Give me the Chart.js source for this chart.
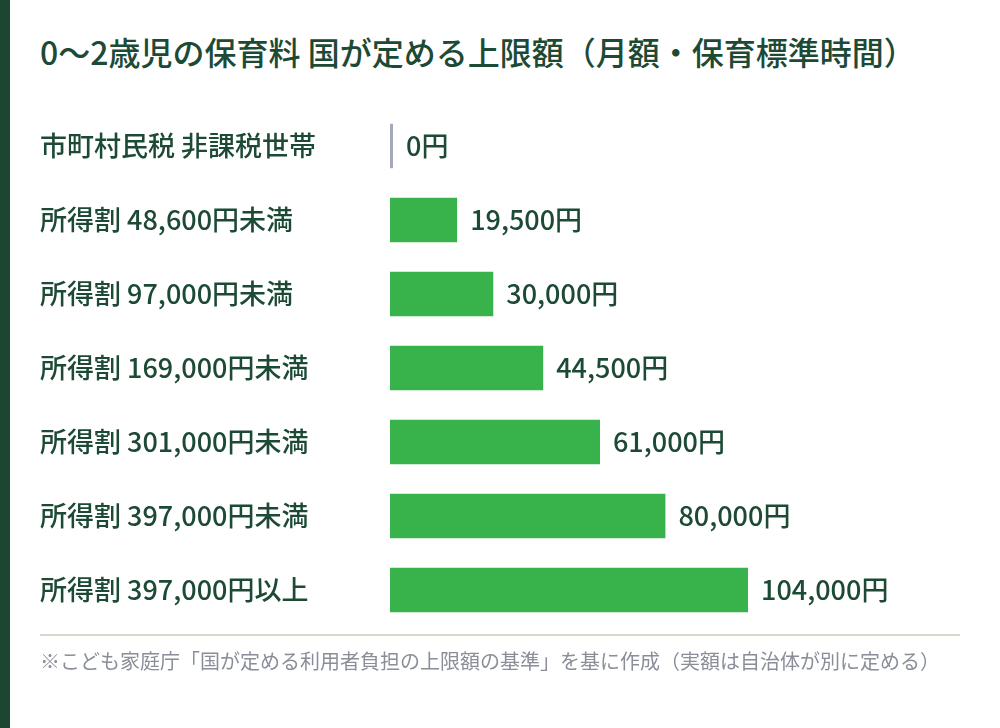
<!DOCTYPE html>
<html lang="ja">
<head>
<meta charset="utf-8">
<script src="https://cdn.jsdelivr.net/npm/chart.js@4.4.1/dist/chart.umd.min.js"></script>
<style>
  html, body { margin: 0; padding: 0; background: #fff; }
  body { width: 1000px; height: 728px; position: relative; overflow: hidden;
         font-family: "Noto Sans CJK JP", "Noto Sans", sans-serif; }
  .stripe { position: absolute; left: 0; top: 0; width: 10px; height: 728px; background: #1c4532; }
  h1 { position: absolute; left: 40px; top: 32px; margin: 0; font-size: 32px; font-weight: 500;
       color: #1d4a35; line-height: 1.2; white-space: nowrap; }
  #chart { position: absolute; left: 0; top: 0; }
  .rule { position: absolute; left: 40px; top: 634px; width: 920px; height: 2px; background: #d9d5c9; }
  .note { position: absolute; left: 40px; top: 649px; margin: 0; font-size: 20px; color: #8a8e99;
          line-height: 1.2; white-space: nowrap; }
</style>
</head>
<body>
<div class="stripe"></div>
<h1>0〜2歳児の保育料 国が定める上限額（月額・保育標準時間）</h1>
<canvas id="chart" width="1000" height="728"></canvas>
<div class="rule"></div>
<p class="note">※こども家庭庁「国が定める利用者負担の上限額の基準」を基に作成（実額は自治体が別に定める）</p>
<script>
const categories = [
    '市町村民税 非課税世帯',
    '所得割 48,600円未満',
    '所得割 97,000円未満',
    '所得割 169,000円未満',
    '所得割 301,000円未満',
    '所得割 397,000円未満',
    '所得割 397,000円以上'
];
const limits = [0, 19500, 30000, 44500, 61000, 80000, 104000];
const barColors = ['#a3a9b6', '#38b24a', '#38b24a', '#38b24a', '#38b24a', '#38b24a', '#38b24a'];

const textColor = '#1d4a35';
const fontFamily = '"Noto Sans CJK JP", "Noto Sans", sans-serif';

// value labels drawn at the end of each bar
const valueLabels = {
    id: 'valueLabels',
    afterDatasetsDraw(chart) {
        const ctx = chart.ctx;
        const meta = chart.getDatasetMeta(0);
        ctx.save();
        ctx.font = '500 27px ' + fontFamily;
        ctx.fillStyle = textColor;
        ctx.textAlign = 'left';
        ctx.textBaseline = 'middle';
        meta.data.forEach((bar, i) => {
            ctx.fillText(limits[i].toLocaleString('en-US') + '円', bar.x + 13, bar.y);
        });
        ctx.restore();
    }
};

new Chart(document.getElementById('chart'), {
    type: 'bar',
    data: {
        labels: categories,
        datasets: [{
            data: limits,
            backgroundColor: barColors,
            borderWidth: 0,
            minBarLength: 3,
            barPercentage: 0.6,
            categoryPercentage: 1
        }]
    },
    options: {
        indexAxis: 'y',
        responsive: false,
        animation: false,
        devicePixelRatio: 1,
        layout: { padding: { left: 40, top: 109, bottom: 101, right: 252 } },
        plugins: {
            legend: { display: false },
            tooltip: { enabled: false }
        },
        scales: {
            x: { display: false, min: 0, max: 104000 },
            y: {
                grid: { display: false },
                border: { display: false },
                afterFit(scale) { scale.width = 350; },
                ticks: {
                    crossAlign: 'far',
                    padding: 0,
                    color: textColor,
                    font: { family: fontFamily, size: 27, weight: 500 }
                }
            }
        }
    },
    plugins: [valueLabels]
});
</script>
</body>
</html>
